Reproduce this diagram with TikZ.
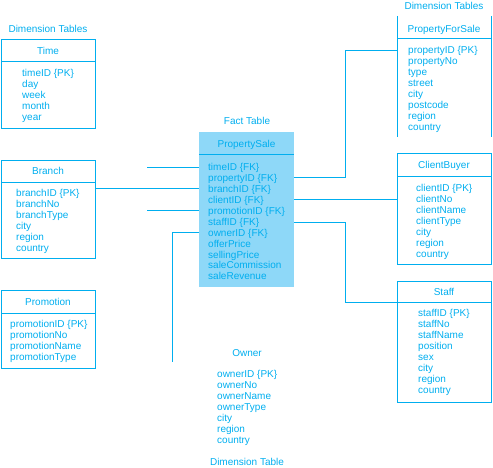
\documentclass[tikz,border=0pt]{standalone}
\usepackage{fontspec}
\setmainfont{Liberation Sans}
\usetikzlibrary{positioning,calc}
\definecolor{cyanline}{HTML}{00AEEF}
\definecolor{factfill}{HTML}{8ED8F8}
\tikzset{
  tablebox/.style={draw=cyanline, line width=0.8pt, minimum width=94pt, inner sep=0pt, outer sep=0pt},
  tabletitle/.style={text=cyanline, font=\fontsize{10}{11}\selectfont, inner sep=0pt, anchor=mid, yshift=-1.5pt},
  attr/.style={text=cyanline, font=\fontsize{10}{11}\selectfont, inner sep=0pt, anchor=mid west, yshift=-1.2pt},
  caption/.style={text=cyanline, font=\fontsize{10}{11}\selectfont, inner sep=0pt, anchor=mid, yshift=-1.5pt},
  sepline/.style={draw=cyanline, line width=0.8pt},
  link/.style={draw=cyanline, line width=0.8pt},
}

\begin{document}
\begin{tikzpicture}[x=1pt, y=-1pt]
  \useasboundingbox (0,0) rectangle (493,468);
  % Captions
  \node[caption] (dimcap-left) at (48,28) {Dimension Tables};
  \node[caption] (dimcap-right) at (444,5) {Dimension Tables};
  \node[caption] (factcap) at (247,120.5) {Fact Table};
  \node[caption] (dimcap-bottom) at (247,461.5) {Dimension Table};

  % Time
  \node[tablebox, minimum height=89pt] (time) at (48,83.5) {};
  \draw[sepline] ($(time.north west)+(0,22)$) -- ($(time.north east)+(0,22)$);
  \node[tabletitle] (time-title) at ($(time.north)+(0,11)$) {Time};
  \foreach \txt [count=\i] in {timeID \{PK\}, day, week, month, year}
    \node[attr] (time-\i) at (22,{73+11*(\i-1)}) {\txt};

  % Branch
  \node[tablebox, minimum height=98pt] (branch) at (48,209) {};
  \draw[sepline] ($(branch.north west)+(0,22)$) -- ($(branch.north east)+(0,22)$);
  \node[tabletitle] (branch-title) at ($(branch.north)+(0,10)$) {Branch};
  \foreach \txt [count=\i] in {branchID \{PK\}, branchNo, branchType, city, region, country}
    \node[attr] (branch-\i) at (16,{193+11*(\i-1)}) {\txt};

  % Promotion
  \node[tablebox, minimum height=78pt] (promotion) at (48,329) {};
  \draw[sepline] ($(promotion.north west)+(0,23)$) -- ($(promotion.north east)+(0,23)$);
  \node[tabletitle] (promotion-title) at ($(promotion.north)+(0,11)$) {Promotion};
  \foreach \txt [count=\i] in {promotionID \{PK\}, promotionNo, promotionName, promotionType}
    \node[attr] (promotion-\i) at (10,{324+11*(\i-1)}) {\txt};

  % PropertySale (fact)
  \node[tablebox, draw=none, fill=factfill, minimum width=95pt, minimum height=155pt] (fact) at (246.5,209.5) {};
  \draw[sepline] ($(fact.north west)+(0,22)$) -- ($(fact.north east)+(0,22)$);
  \node[tabletitle] (fact-title) at ($(fact.north)+(0,11)$) {PropertySale};
  \foreach \txt [count=\i] in {timeID \{FK\}, propertyID \{FK\}, branchID \{FK\}, clientID \{FK\},
      promotionID \{FK\}, staffID \{FK\}, ownerID \{FK\}, offerPrice, sellingPrice,
      saleCommission, saleRevenue}
    \node[attr] (fact-\i) at (208,{167+10.9*(\i-1)}) {\txt};

  % PropertyForSale
  \node[tablebox, draw=none, minimum height=121pt] (property) at (444,76.5) {};
  \draw[sepline] (property.north west) -- (property.south west);
  \draw[sepline] (property.north east) -- (property.south east);
  \draw[sepline] ($(property.north west)+(0,22)$) -- ($(property.north east)+(0,22)$);
  \node[tabletitle] (property-title) at ($(property.north)+(0,12)$) {PropertyForSale};
  \foreach \txt [count=\i] in {propertyID \{PK\}, propertyNo, type, street, city, postcode, region, country}
    \node[attr] (property-\i) at (408,{50+11*(\i-1)}) {\txt};

  % ClientBuyer
  \node[tablebox, minimum height=111pt] (client) at (444,208.5) {};
  \draw[sepline] ($(client.north west)+(0,23)$) -- ($(client.north east)+(0,23)$);
  \node[tabletitle] (client-title) at ($(client.north)+(0,11)$) {ClientBuyer};
  \foreach \txt [count=\i] in {clientID \{PK\}, clientNo, clientName, clientType, city, region, country}
    \node[attr] (client-\i) at (416,{188+11*(\i-1)}) {\txt};

  % Staff
  \node[tablebox, minimum height=121pt] (staff) at (444,341.5) {};
  \coordinate (staff-sep) at ($(staff.north west)+(0,21)$);
  \draw[sepline] (staff-sep) -- ($(staff.north east)+(0,21)$);
  \node[tabletitle] (staff-title) at ($(staff.north)+(0,10)$) {Staff};
  \foreach \txt [count=\i] in {staffID \{PK\}, staffNo, staffName, position, sex, city, region, country}
    \node[attr] (staff-\i) at (418,{313+11*(\i-1)}) {\txt};

  % Owner (no frame)
  \node[tabletitle] (owner-title) at (247,352) {Owner};
  \foreach \txt [count=\i] in {ownerID \{PK\}, ownerNo, ownerName, ownerType, city, region, country}
    \node[attr] (owner-\i) at (217,{374+11*(\i-1)}) {\txt};

  % Connectors
  \coordinate (leftx) at (147,0);
  \coordinate (ownerx) at (172,0);
  \coordinate (owner-end) at (172,362);
  \coordinate (rightx) at (345.5,0);
  \draw[link] (leftx |- 0,167) -- (fact.west |- 0,167);
  \draw[link] (branch.east |- 0,188) -- (fact.west |- 0,188);
  \draw[link] (leftx |- 0,210) -- (fact.west |- 0,210);
  \draw[link] (fact.west |- 0,232) -| (owner-end);
  \draw[link] (fact.east |- 0,177) -- (rightx |- 0,177) |- (property.west |- 0,50);
  \draw[link] (fact.east |- 0,199) -- (client.west |- 0,199);
  \draw[link] (fact.east |- 0,222) -- (rightx |- 0,222) |- (staff-sep);
\end{tikzpicture}
\end{document}
